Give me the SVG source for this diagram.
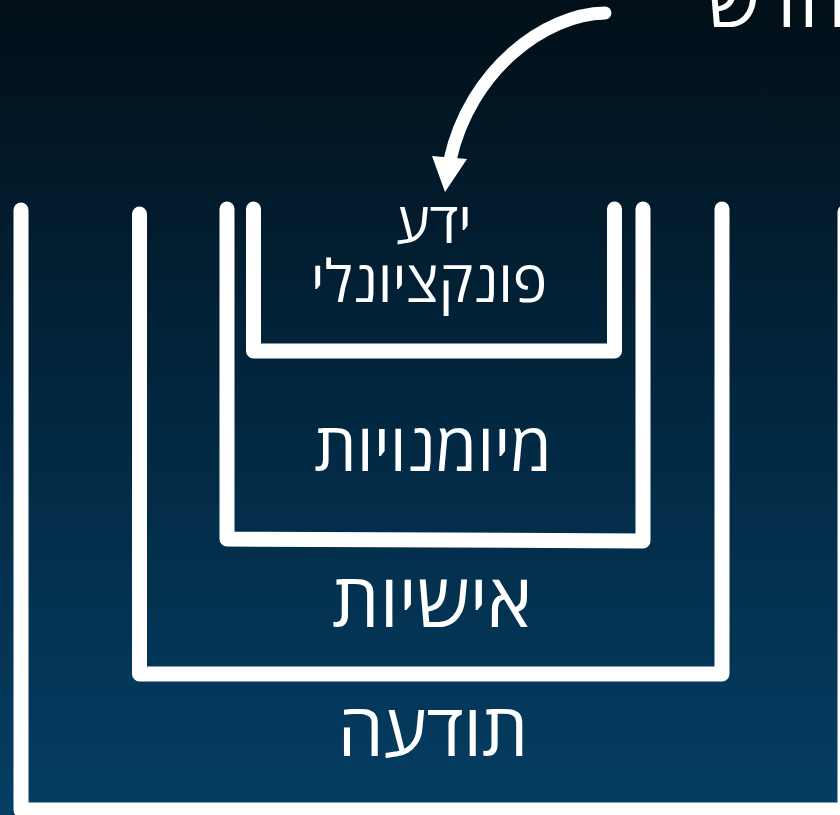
<svg xmlns="http://www.w3.org/2000/svg" width="840" height="815" viewBox="0 0 840 815">
  <defs>
    <linearGradient id="bg" x1="0" y1="0" x2="0" y2="1">
      <stop offset="0" stop-color="#020f18"/>
      <stop offset="0.5" stop-color="#022740"/>
      <stop offset="1" stop-color="#053e64"/>
    </linearGradient>
    <style>
      .cup { fill: none; stroke: #ffffff; stroke-width: 15; stroke-linecap: round; stroke-linejoin: round; }
      .lbl { fill: #ffffff; font-family: "Open Sans", "DejaVu Sans", sans-serif; text-anchor: middle; direction: rtl; }
    </style>
  </defs>

  <rect width="840" height="815" fill="url(#bg)"/>

  <!-- nested layers, outermost first -->
  <g id="layer-awareness">
    <path class="cup" d="M21 210 V810 H845 V212"/>
    <text class="lbl" x="433" y="756" font-size="73">תודעה</text>
  </g>
  <g id="layer-personality">
    <path class="cup" d="M139.5 214 V674 H722 V209"/>
    <text class="lbl" x="432" y="627" font-size="75">אישיות</text>
  </g>
  <g id="layer-skills">
    <path class="cup" d="M227 209 V539 L643 541 V209"/>
    <text class="lbl" x="433" y="471" font-size="67">מיומנויות</text>
  </g>
  <g id="layer-knowledge">
    <path class="cup" d="M253.5 209 V351 H614.5 V209"/>
    <text class="lbl" x="434" y="243" font-size="57">ידע</text>
    <text class="lbl" x="429" y="302" font-size="58">פונקציונלי</text>
  </g>

  <!-- heading, partly outside the frame -->
  <g id="heading">
    <text class="lbl" x="777" y="27" font-size="76">חדש</text>
  </g>

  <g id="connectors">
    <path d="M605 13 C545 14 470 70 450 160" fill="none" stroke="#ffffff" stroke-width="13" stroke-linecap="round"/>
    <polygon points="432,156 467,159 445,192" fill="#ffffff"/>
  </g>
</svg>
